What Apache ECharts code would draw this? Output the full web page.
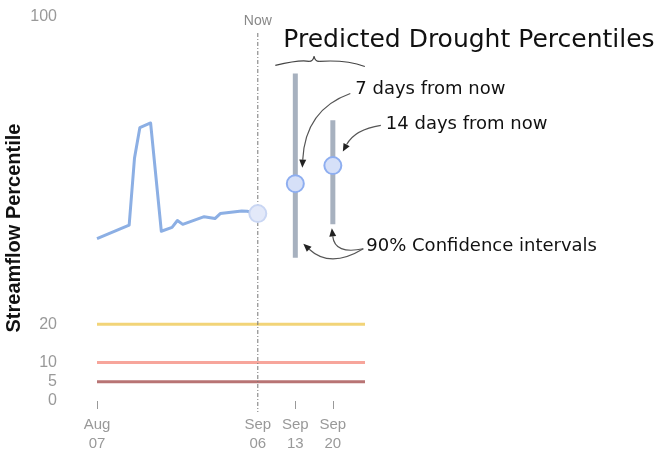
<!DOCTYPE html>
<html>
<head>
<meta charset="utf-8">
<script src="https://cdn.jsdelivr.net/npm/echarts@6/dist/echarts.min.js"></script>
<style>
  html, body { margin: 0; padding: 0; background: #fff; }
  #chart { width: 666px; height: 453px; }
</style>
</head>
<body>
<div id="chart"></div>
<script>
// Observed streamflow percentile (date, percentile)
const observedDates = ['2013-08-07', '2013-08-13', '2013-08-14', '2013-08-15', '2013-08-17',
  '2013-08-19', '2013-08-21', '2013-08-22', '2013-08-23', '2013-08-27', '2013-08-29',
  '2013-08-30', '2013-09-03', '2013-09-04', '2013-09-06'];
const observedValues = [42.3, 45.8, 63.3, 71.2, 72.4, 44.2, 45.2, 47.0, 46.0, 48.0, 47.5,
  48.8, 49.5, 49.4, 48.8];

// Current value and forecasts
const nowDate = '2013-09-06';
const nowValue = 48.8;
const forecastDates = ['2013-09-13', '2013-09-20'];
const forecastMedian = [56.6, 61.3];
const forecastLow = [37.3, 46.0];
const forecastHigh = [85.3, 73.1];

// Drought thresholds
const thresholdValues = [20, 10, 5];
const thresholdColors = ['#f2d478', '#f7a59b', '#b87474'];

// Axis extents and ticks
const xStart = '2013-08-07';
const xEnd = '2013-09-26';
const xTickDates = ['2013-08-07', '2013-09-06', '2013-09-13', '2013-09-20'];
const xTickMarks = ['2013-08-07', '2013-09-13', '2013-09-20'];
const yTicks = [0, 5, 10, 20, 100];

const MONTHS = ['Jan','Feb','Mar','Apr','May','Jun','Jul','Aug','Sep','Oct','Nov','Dec'];
const ts = d => new Date(d + 'T00:00:00Z').getTime();
const hand = "'DejaVu Sans', sans-serif";
const plain = "'Liberation Sans', Arial, sans-serif";

const chart = echarts.init(document.getElementById('chart'));

const series = [];
thresholdValues.forEach((v, i) => {
  series.push({
    type: 'line', silent: true, symbol: 'none', z: 1,
    lineStyle: { color: thresholdColors[i], width: 3 },
    data: [[ts(xStart), v], [ts(xEnd), v]]
  });
});
series.push({
  type: 'line', symbol: 'none', z: 3,
  lineStyle: { color: '#8cafe4', width: 3, join: 'round' },
  data: observedDates.map((d, i) => [ts(d), observedValues[i]])
});
forecastDates.forEach((d, i) => {
  series.push({
    type: 'line', symbol: 'none', z: 2,
    lineStyle: { color: '#a7b1bf', width: 5, cap: 'butt' },
    data: [[ts(d), forecastLow[i]], [ts(d), forecastHigh[i]]]
  });
});
series.push({
  type: 'scatter', symbolSize: 17, z: 5,
  itemStyle: { color: '#e3e9f9', borderColor: '#c9d6f3', borderWidth: 2, opacity: 1 },
  data: [[ts(nowDate), nowValue]]
});
series.push({
  type: 'scatter', symbolSize: 17, z: 5,
  itemStyle: { color: '#d6e0f8', borderColor: '#8eaef0', borderWidth: 2, opacity: 1 },
  data: forecastDates.map((d, i) => [ts(d), forecastMedian[i]])
});

chart.setOption({
  animation: false,
  grid: { left: 97, right: 301, top: 17, bottom: 51 },
  xAxis: {
    type: 'value', min: ts(xStart), max: ts(xEnd), offset: 3,
    axisLine: { show: false },
    splitLine: { show: false },
    axisTick: { show: true, length: 8, customValues: xTickMarks.map(ts),
      lineStyle: { color: '#999', width: 1 } },
    axisLabel: {
      customValues: xTickDates.map(ts), margin: 11,
      color: '#999', fontSize: 15, lineHeight: 19, fontFamily: plain,
      formatter: v => {
        const d = new Date(v);
        return MONTHS[d.getUTCMonth()] + '\n' + String(d.getUTCDate()).padStart(2, '0');
      }
    }
  },
  yAxis: {
    type: 'value', min: 0, max: 100,
    axisLine: { show: false }, axisTick: { show: false }, splitLine: { show: false },
    axisLabel: { customValues: yTicks, margin: 40, color: '#999', fontSize: 16, fontFamily: plain,
      padding: [3, 0, 0, 0] }
  },
  series: series
});

// Annotations placed relative to the data positions
const px = (d, v) => chart.convertToPixel({ gridIndex: 0 }, [ts(d), v]);
const nowTop = px(nowDate, 100);
const nowBottom = px(nowDate, 0);
const p13 = px(forecastDates[0], forecastMedian[0]);
const p20 = px(forecastDates[1], forecastMedian[1]);
const top13 = px(forecastDates[0], forecastHigh[0]);
const bot13 = px(forecastDates[0], forecastLow[0]);
const top20 = px(forecastDates[1], forecastHigh[1]);
const bot20 = px(forecastDates[1], forecastLow[1]);

function arrow(s, c, e) {
  const ang = Math.atan2(e[1] - c[1], e[0] - c[0]);
  const L = 8, W = 3.5;
  const bx = e[0] - L * Math.cos(ang), by = e[1] - L * Math.sin(ang);
  const nx = -Math.sin(ang), ny = Math.cos(ang);
  return [
    { type: 'bezierCurve', silent: true,
      shape: { x1: s[0], y1: s[1], cpx1: c[0], cpy1: c[1], x2: bx, y2: by },
      style: { stroke: '#555', lineWidth: 1.2, fill: null } },
    { type: 'polygon', silent: true,
      shape: { points: [[e[0], e[1]], [bx + nx * W, by + ny * W], [bx - nx * W, by - ny * W]] },
      style: { fill: '#222' } }
  ];
}

function curve(x1, y1, cx, cy, x2, y2) {
  return { type: 'bezierCurve', silent: true,
    shape: { x1: x1, y1: y1, cpx1: cx, cpy1: cy, x2: x2, y2: y2 },
    style: { stroke: '#444', lineWidth: 1.2, fill: null } };
}

const y7 = top13[1] + 16, y14 = top20[1] + 4, yci = bot13[1] - 11;
const ciStart = [p13[0] + 68, yci + 2];

// Curly brace grouping the two forecasts
const bL = top13[0] - 20, bR = p20[0] + 32, bM = (top13[0] + p20[0]) / 2, bY = top13[1] - 8;
const brace = [
  curve(bL, bY, bL + 25, bY - 6, bM - 5, bY - 4),
  curve(bM - 5, bY - 4, bM - 1, bY - 4, bM, bY - 9),
  curve(bM, bY - 9, bM + 1, bY - 4, bM + 5, bY - 4),
  curve(bM + 5, bY - 4, bR - 20, bY - 6, bR, bY + 1)
];

const graphics = [
  { type: 'line', silent: true, z: 4,
    shape: { x1: nowTop[0], y1: nowTop[1] + 16, x2: nowBottom[0], y2: nowBottom[1] + 11 },
    style: { stroke: '#777', lineWidth: 1, lineDash: [4, 2, 1, 2] } },
  { type: 'text', silent: true,
    style: { x: nowTop[0], y: nowTop[1] + 4, text: 'Now', fill: '#888', fontSize: 14,
      fontFamily: plain, align: 'center', verticalAlign: 'middle' } },
  { type: 'text', silent: true, rotation: Math.PI / 2, x: 14, y: 228,
    style: { x: 0, y: 0, text: 'Streamflow Percentile', fill: '#111', fontSize: 20, fontWeight: 'bold',
      fontFamily: plain, align: 'center', verticalAlign: 'middle' } },
  { type: 'text', silent: true,
    style: { x: top13[0] - 12, y: nowTop[1] + 23, text: 'Predicted Drought Percentiles', fill: '#111',
      fontSize: 25, fontFamily: hand, verticalAlign: 'middle' } },
  ...brace,
  { type: 'text', silent: true,
    style: { x: p13[0] + 60, y: y7, text: '7 days from now', fill: '#111', fontSize: 18,
      fontFamily: hand, verticalAlign: 'middle' } },
  { type: 'text', silent: true,
    style: { x: p20[0] + 53, y: y14, text: '14 days from now', fill: '#111', fontSize: 18,
      fontFamily: hand, verticalAlign: 'middle' } },
  { type: 'text', silent: true,
    style: { x: p13[0] + 71, y: yci, text: '90% Confidence intervals', fill: '#111', fontSize: 18,
      fontFamily: hand, verticalAlign: 'middle' } },
  ...arrow([p13[0] + 55, y7 + 4], [p13[0] + 10, y7 + 20], [p13[0] + 7, p13[1] - 16]),
  ...arrow([p20[0] + 48, y14 + 1], [p20[0] + 22, y14 + 5], [p20[0] + 10, p20[1] - 14]),
  ...arrow(ciStart, [p13[0] + 35, yci + 22], [p13[0] + 8, yci - 3]),
  ...arrow(ciStart, [p20[0] + 2, yci + 8], [p20[0] - 1, bot20[1] + 4])
];
chart.setOption({ graphic: graphics });
</script>
</body>
</html>
